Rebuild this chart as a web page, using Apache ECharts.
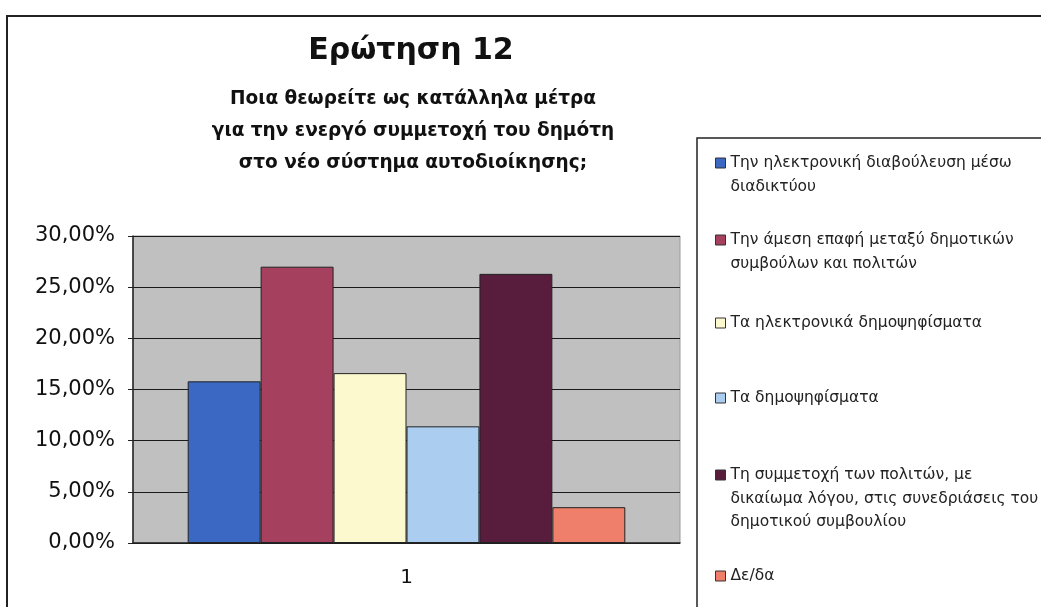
<!DOCTYPE html>
<html>
<head>
<meta charset="utf-8">
<script src="https://cdn.jsdelivr.net/npm/echarts@6/dist/echarts.min.js"></script>
<style>
  html, body { margin: 0; padding: 0; background: #fff; }
  #chart { width: 1041px; height: 607px; }
</style>
</head>
<body>
<div id="chart"></div>
<script>
/* ---------- data ---------- */
const categories = ['1'];
const seriesNames = [
  'Την ηλεκτρονική διαβούλευση μέσω διαδικτύου',
  'Την άμεση επαφή μεταξύ δημοτικών συμβούλων και πολιτών',
  'Τα ηλεκτρονικά δημοψηφίσματα',
  'Τα δημοψηφίσματα',
  'Τη συμμετοχή των πολιτών, με δικαίωμα λόγου, στις συνεδριάσεις του δημοτικού συμβουλίου',
  'Δε/δα'
];
const legendLabels = [
  'Την ηλεκτρονική διαβούλευση μέσω\nδιαδικτύου',
  'Την άμεση επαφή μεταξύ δημοτικών\nσυμβούλων και πολιτών',
  'Τα ηλεκτρονικά δημοψηφίσματα',
  'Τα δημοψηφίσματα',
  'Τη συμμετοχή των πολιτών, με\nδικαίωμα λόγου, στις συνεδριάσεις του\nδημοτικού συμβουλίου',
  'Δε/δα'
];
const values = [15.8, 27.0, 16.6, 11.4, 26.3, 3.5];
const colors = ['#3a68c2', '#a5405f', '#fcf9cf', '#abcdf0', '#581d3d', '#ef7f6a'];
const yTicks = [0, 5, 10, 15, 20, 25, 30];

/* ---------- chart ---------- */
const chart = echarts.init(document.getElementById('chart'));
const font = '"DejaVu Sans", "Liberation Sans", Arial, sans-serif';
// y of the first text line of each legend entry
const legendLineY = [158, 235, 318, 393, 470, 571];
const legendLH = 23.5;

chart.setOption({
  animation: false,
  textStyle: { fontFamily: font },
  title: [
    {
      text: 'Ερώτηση 12',
      left: 406, top: 31, textAlign: 'center',
      textStyle: { fontSize: 30, fontWeight: 'bold', color: '#111', fontFamily: font }
    },
    {
      text: 'Ποια θεωρείτε ως κατάλληλα μέτρα\nγια την ενεργό συμμετοχή του δημότη\nστο νέο σύστημα αυτοδιοίκησης;',
      left: 408, top: 78, textAlign: 'center',
      textStyle: { fontSize: 18.5, fontWeight: 'bold', color: '#111', lineHeight: 32, fontFamily: font }
    }
  ],
  graphic: [
    { type: 'rect', shape: { x: 7, y: 16, width: 1060, height: 620 }, style: { fill: 'none', stroke: '#222', lineWidth: 2 }, z: -1 },
    { type: 'rect', shape: { x: 697, y: 138, width: 400, height: 500 }, style: { fill: 'none', stroke: '#222', lineWidth: 1.5 }, z: -1 }
  ],
  // one legend per entry so each can sit at its own height; the icon lines up with the first text line
  legend: seriesNames.map((name, i) => {
    const n = legendLabels[i].split('\n').length;
    return {
      data: [name],
      left: 710,
      top: legendLineY[i] - (2 * n - 1) * legendLH / 2,
      orient: 'vertical',
      itemWidth: 10,
      itemHeight: 10,
      itemGap: 0,
      icon: 'rect',
      selectedMode: false,
      itemStyle: { borderColor: '#333', borderWidth: 1 },
      formatter: () => '\n'.repeat(n - 1) + legendLabels[i],
      textStyle: { fontSize: 15.5, color: '#222', lineHeight: legendLH, fontFamily: font }
    };
  }),
  grid: {
    left: 133, right: 361, top: 236, bottom: 64,
    show: true, backgroundColor: '#c0c0c0', borderColor: '#9a9a9a', borderWidth: 1
  },
  xAxis: {
    type: 'category',
    data: categories,
    axisLine: { lineStyle: { color: '#222', width: 1.5 } },
    axisTick: { show: false },
    axisLabel: { fontSize: 20, color: '#111', margin: 25 }
  },
  yAxis: {
    type: 'value',
    min: yTicks[0],
    max: yTicks[yTicks.length - 1],
    interval: 5,
    axisLine: { show: true, lineStyle: { color: '#222', width: 1.5 } },
    axisTick: { show: true, length: 5, lineStyle: { color: '#222' } },
    splitLine: { lineStyle: { color: '#1a1a1a', width: 1.2 } },
    axisLabel: {
      fontSize: 21, color: '#111', margin: 18,
      formatter: (v) => v.toFixed(2).replace('.', ',') + '%'
    }
  },
  series: seriesNames.map((name, i) => ({
    name,
    type: 'bar',
    data: [values[i]],
    barGap: '0%',
    barCategoryGap: '20%',
    itemStyle: { color: colors[i], borderColor: '#222', borderWidth: 1 }
  }))
});
</script>
</body>
</html>
